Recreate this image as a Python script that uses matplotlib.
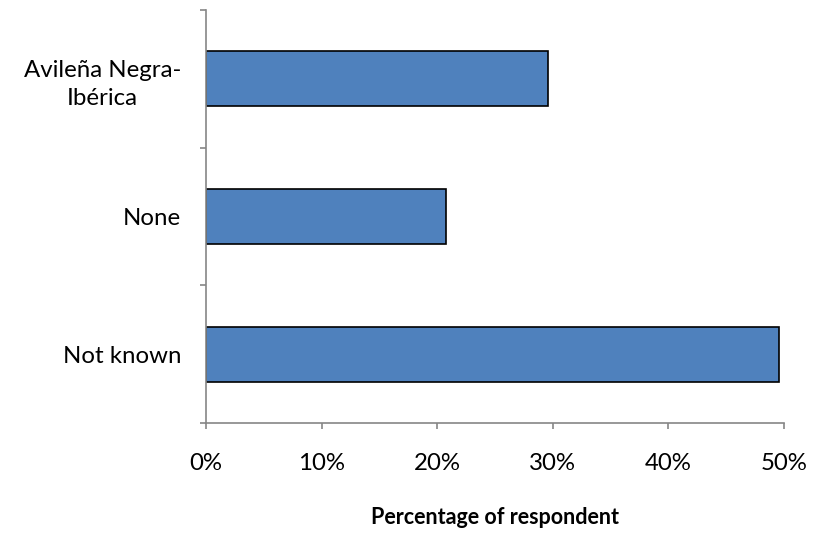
import matplotlib.pyplot as plt
from matplotlib.ticker import FuncFormatter, FixedLocator

# breed used, share of respondents (%)
breeds = ["Not known", "None", "Avileña Negra-\nIbérica"]
share = [49.6, 20.8, 29.6]

plt.rcParams['font.family'] = ['Lato', 'DejaVu Sans']

fig = plt.figure(figsize=(8.25, 5.42), dpi=100)
ax = fig.add_axes([0.2497, 0.2196, 0.7006, 0.7620])

pos = [i + 0.5 for i in range(len(breeds))]
ax.barh(pos, share, height=0.4, color='#4F81BD', edgecolor='black', linewidth=1.2)

ax.set_xlim(0, 50)
ax.set_ylim(0, 3)
ax.set_xticks(range(0, 51, 10))
ax.xaxis.set_major_formatter(FuncFormatter(lambda v, p: f"{v:.0f}%"))

# category ticks sit between bars, labels centred on bars
ax.yaxis.set_major_locator(FixedLocator([0, 1, 2, 3]))
ax.yaxis.set_minor_locator(FixedLocator(pos))
ax.set_yticklabels([])
ax.set_yticklabels(breeds, minor=True, ha='right', multialignment='center', linespacing=1.4)
ax.tick_params(axis='y', which='minor', length=0, pad=18, labelsize=17.3)
ax.tick_params(axis='y', which='major', length=4.5, width=1.2, color='#868686')
ax.tick_params(axis='x', length=4.5, width=1.2, color='#868686', pad=17, labelsize=17.3)

for s in ['top', 'right']:
    ax.spines[s].set_visible(False)
for s in ['left', 'bottom']:
    ax.spines[s].set_color('#868686')
    ax.spines[s].set_linewidth(1.2)

ax.set_xlabel("Percentage of respondent", fontsize=15.5, fontweight='bold', labelpad=24)

fig.savefig("out.png", dpi=100)
